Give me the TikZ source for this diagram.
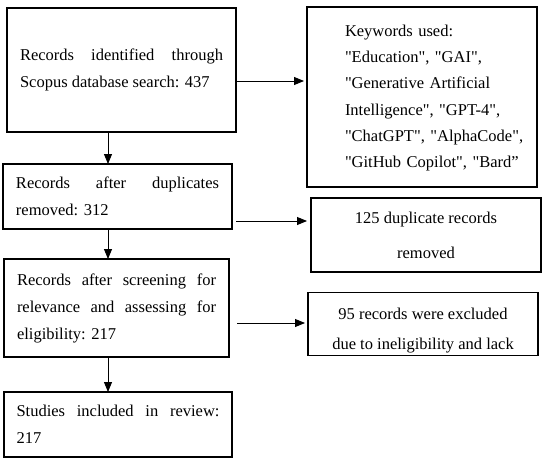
\documentclass[tikz,border=0pt]{standalone}
\usepackage{fontspec}
\setmainfont{Liberation Serif}
\usetikzlibrary{arrows.meta,positioning}
\tikzstyle{box}  =[draw, line width=1.6pt, inner sep=0pt, outer sep=0pt]
\tikzstyle{txt}  =[inner sep=0pt, outer sep=0pt,
                   font=\fontsize{16.5}{27}\selectfont]
\tikzstyle{arr}  =[-{Triangle[length=10pt,width=8pt]}, line width=0.9pt]
\newcommand{\q}{\textquotedbl}

\begin{document}
\begin{tikzpicture}[x=1pt,y=-1pt]
    \useasboundingbox (0,0) rectangle (550,461);
    % left column
    \node (ident) [box, txt, minimum width=229pt, minimum height=124pt,
        text width=203pt, align=justify] at (121.5,70)
        {Records identified through\linebreak Scopus database search: 437};
    \node (dup) [box, txt, minimum width=229pt, minimum height=65pt,
        text width=203pt, align=justify] at (117.5,196.5)
        {Records after duplicates\linebreak removed: 312};
    \node (screen) [box, txt, minimum width=225pt, minimum height=98pt,
        text width=199pt, align=justify] at (116.5,308)
        {Records after screening for\linebreak relevance and assessing for\linebreak eligibility: 217};
    \node (incl) [box, txt, minimum width=228pt, minimum height=65pt,
        text width=203pt, align=justify] at (118,424.5)
        {Studies included in review:\linebreak 217};
    % right column
    \node (keys) [box, minimum width=230pt, minimum height=180pt] at (422,97) {};
    \node (keystext) [txt, anchor=west, align=left, text width=190pt,
        font=\fontsize{16.5}{26.2}\selectfont] at (345,98)
        {Keywords used:\\ \q Education\q, \q GAI\q,\\ \q Generative Artificial\\
         Intelligence\q, \q GPT-4\q,\\ \q ChatGPT\q, \q AlphaCode\q,\\ \q GitHub Copilot\q, \q Bard”};
    \node (dupx) [box, txt, minimum width=230pt, minimum height=74pt,
        align=center] at (426,235) {125 duplicate records\\[8pt] removed};
    \node (excl) [box, minimum width=230pt, minimum height=63pt] at (423,324) {};
    \begin{scope}
        \clip (excl.south west) rectangle (excl.north east);
        \node (excltext) [txt, align=center, yshift=-7pt] at (excl.center)
            {95 records were excluded\\[3pt] due to ineligibility and lack};
    \end{scope}
    \draw[box] (excl.south west) rectangle (excl.north east);
    % connectors
    \coordinate (spine) at (108,0);
    \coordinate (row1) at (0,81);
    \coordinate (row2) at (0,221);
    \coordinate (row3) at (0,323);
    \draw[arr] (spine |- ident.south) -- (spine |- dup.north);
    \draw[arr] (spine |- dup.south) -- (spine |- screen.north);
    \draw[arr] (spine |- screen.south) -- (spine |- incl.north);
    \draw[arr, shorten >=3pt] (ident.east |- row1) -- (keys.west |- row1);
    \draw[arr, shorten <=4pt, shorten >=4pt] (dup.east |- row2) -- (dupx.west |- row2);
    \draw[arr, shorten <=8pt, shorten >=3pt] (screen.east |- row3) -- (excl.west |- row3);
\end{tikzpicture}
\end{document}
